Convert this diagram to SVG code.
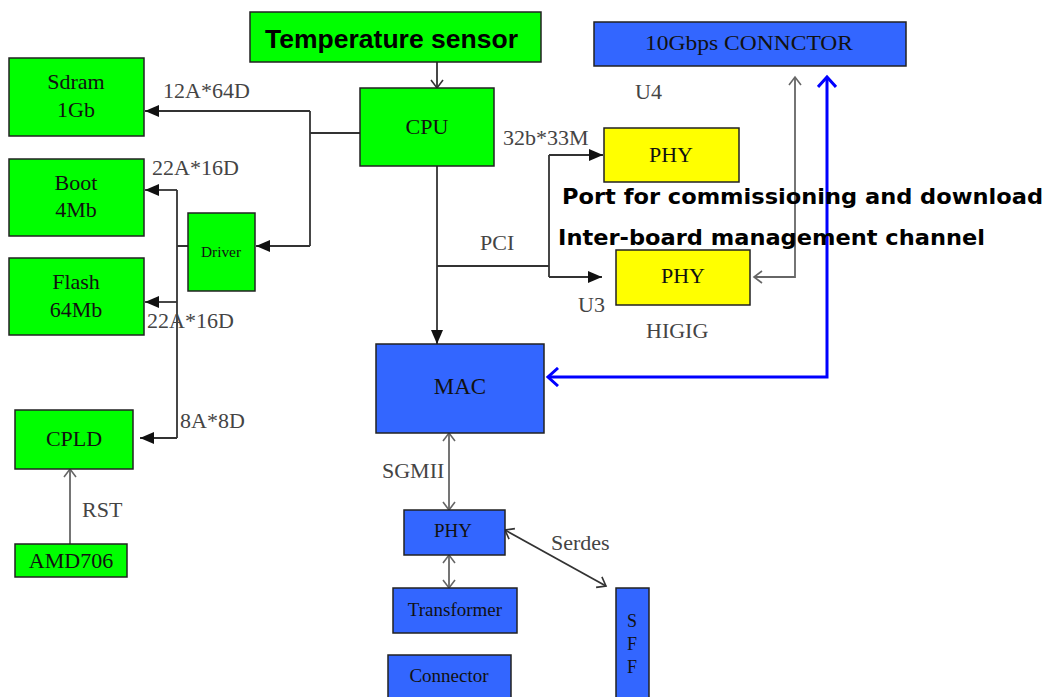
<svg xmlns="http://www.w3.org/2000/svg" width="1053" height="697" viewBox="0 0 1053 697">
<defs>
<style>
.g{fill:#00ff00;stroke:#222;stroke-width:1.5}
.b{fill:#3366ff;stroke:#222;stroke-width:1.5}
.y{fill:#ffff00;stroke:#222;stroke-width:1.5}
.t{font-family:"Liberation Serif","Times New Roman",serif;font-size:22px;fill:#111;text-anchor:middle}
.l{font-family:"Liberation Serif","Times New Roman",serif;font-size:22px;fill:#444}
.bs{font-family:"DejaVu Sans","Liberation Sans",sans-serif;font-weight:bold;font-size:22px;fill:#000}
.ln{fill:none;stroke:#333;stroke-width:1.8}
.gr{fill:none;stroke:#666;stroke-width:1.8}
.bl{fill:none;stroke:#0000ff;stroke-width:3}
</style>
<marker id="af" markerUnits="userSpaceOnUse" markerWidth="16" markerHeight="12" refX="14" refY="6" orient="auto-start-reverse"><path d="M0,0 L14,6 L0,12 z" fill="#111"/></marker>
<marker id="ao" markerUnits="userSpaceOnUse" markerWidth="12" markerHeight="14" refX="9" refY="7" orient="auto-start-reverse"><path d="M1,1 L9,7 L1,13" fill="none" stroke="#333" stroke-width="1.6"/></marker>
<marker id="ag" markerUnits="userSpaceOnUse" markerWidth="12" markerHeight="14" refX="9" refY="7" orient="auto-start-reverse"><path d="M1,1 L9,7 L1,13" fill="none" stroke="#666" stroke-width="1.6"/></marker>
<marker id="ab" markerUnits="userSpaceOnUse" markerWidth="14" markerHeight="20" refX="11" refY="10" orient="auto-start-reverse"><path d="M1,1 L11,10 L1,19" fill="none" stroke="#0000ff" stroke-width="3"/></marker>
</defs>
<rect width="1053" height="697" fill="#fff"/>
<g id="connectors">
<path class="ln" d="M360,133 H310 M310,111 V246"/>
<path class="ln" d="M310,111 H145" marker-end="url(#af)"/>
<path class="ln" d="M310,246 H256" marker-end="url(#af)"/>
<path class="ln" d="M188,246 H177 M177,190 V438"/>
<path class="ln" d="M177,190 H145" marker-end="url(#af)"/>
<path class="ln" d="M177,302 H145" marker-end="url(#af)"/>
<path class="ln" d="M177,438 H140" marker-end="url(#af)"/>
<path class="ln" d="M437,62 V88" marker-end="url(#ao)"/>
<path class="ln" d="M437,166 V344" marker-end="url(#af)"/>
<path class="ln" d="M437,266 H549 M549,155 V277"/>
<path class="ln" d="M549,155 H603" marker-end="url(#af)"/>
<path class="ln" d="M549,277 H602" marker-end="url(#af)"/>
<path class="gr" d="M754,277 H795 V77" marker-start="url(#ag)" marker-end="url(#ag)"/>
<path class="bl" d="M548,377 H827 V77" marker-start="url(#ab)" marker-end="url(#ab)"/>
<path class="gr" d="M70,544 V469" marker-end="url(#ag)"/>
<path class="gr" d="M449,433 V510" marker-start="url(#ag)" marker-end="url(#ag)"/>
<path class="gr" d="M449,555 V588" marker-start="url(#ag)" marker-end="url(#ag)"/>
<path class="ln" d="M505,530 L606,586" marker-start="url(#ao)" marker-end="url(#ao)"/>
<text class="l" x="163" y="98">12A*64D</text>
<text class="l" x="152" y="175">22A*16D</text>
<text class="l" x="147" y="328">22A*16D</text>
<text class="l" x="180" y="428">8A*8D</text>
<text class="l" x="82" y="517">RST</text>
<text class="l" x="503" y="145">32b*33M</text>
<text class="l" x="480" y="250">PCI</text>
<text class="l" x="578" y="312">U3</text>
<text class="l" x="635" y="99">U4</text>
<text class="l" x="646" y="338">HIGIG</text>
<text class="l" x="382" y="478">SGMII</text>
<text class="l" x="551" y="550">Serdes</text>
</g>
<g id="temp"><rect class="g" x="250" y="12" width="291" height="50"/><text class="bs" x="265" y="48" textLength="253" lengthAdjust="spacingAndGlyphs" style="font-family:'Liberation Sans',Arial,sans-serif;font-size:25px">Temperature sensor</text></g>
<g id="cpu"><rect class="g" x="360" y="88" width="134" height="78"/><text class="t" x="427" y="134">CPU</text></g>
<g id="sdram"><rect class="g" x="9" y="58" width="135" height="78"/><text class="t" x="76" y="89">Sdram</text><text class="t" x="76" y="117">1Gb</text></g>
<g id="boot"><rect class="g" x="9" y="159" width="135" height="77"/><text class="t" x="76" y="190">Boot</text><text class="t" x="76" y="217">4Mb</text></g>
<g id="flash"><rect class="g" x="9" y="258" width="135" height="77"/><text class="t" x="76" y="289">Flash</text><text class="t" x="76" y="317">64Mb</text></g>
<g id="driver"><rect class="g" x="188" y="213" width="67" height="78"/><text class="t" x="221" y="257" textLength="40" lengthAdjust="spacingAndGlyphs" style="font-size:14px">Driver</text></g>
<g id="cpld"><rect class="g" x="15" y="410" width="118" height="59"/><text class="t" x="74" y="446">CPLD</text></g>
<g id="amd706"><rect class="g" x="15" y="544" width="112" height="33"/><text class="t" x="71" y="568">AMD706</text></g>
<g id="conn10g"><rect class="b" x="594" y="22" width="312" height="44"/><text class="t" x="749" y="50" textLength="208" lengthAdjust="spacingAndGlyphs">10Gbps CONNCTOR</text></g>
<g id="phy1"><rect class="y" x="604" y="128" width="135" height="54"/><text class="t" x="671" y="162">PHY</text></g>
<g id="phy2"><rect class="y" x="616" y="250" width="134" height="55"/><text class="t" x="683" y="283">PHY</text></g>
<g id="mac"><rect class="b" x="376" y="344" width="168" height="89"/><text class="t" x="460" y="394" style="font-size:23px">MAC</text></g>
<g id="phy3"><rect class="b" x="404" y="510" width="101" height="45"/><text class="t" x="453" y="537" style="font-size:19px">PHY</text></g>
<g id="transformer"><rect class="b" x="393" y="588" width="124" height="45"/><text class="t" x="455" y="616" style="font-size:19px">Transformer</text></g>
<g id="connector"><rect class="b" x="388" y="655" width="123" height="50"/><text class="t" x="449" y="682" style="font-size:19px">Connector</text></g>
<g id="sff"><rect class="b" x="616" y="588" width="33" height="120"/><text class="t" x="632" y="627" style="font-size:18px">S</text><text class="t" x="632" y="650" style="font-size:18px">F</text><text class="t" x="632" y="673" style="font-size:18px">F</text></g>
<g id="notes">
<text class="bs" x="562" y="204" textLength="481" lengthAdjust="spacingAndGlyphs">Port for commissioning and download</text>
<text class="bs" x="558" y="245" textLength="427" lengthAdjust="spacingAndGlyphs">Inter-board management channel</text>
</g>
</svg>
